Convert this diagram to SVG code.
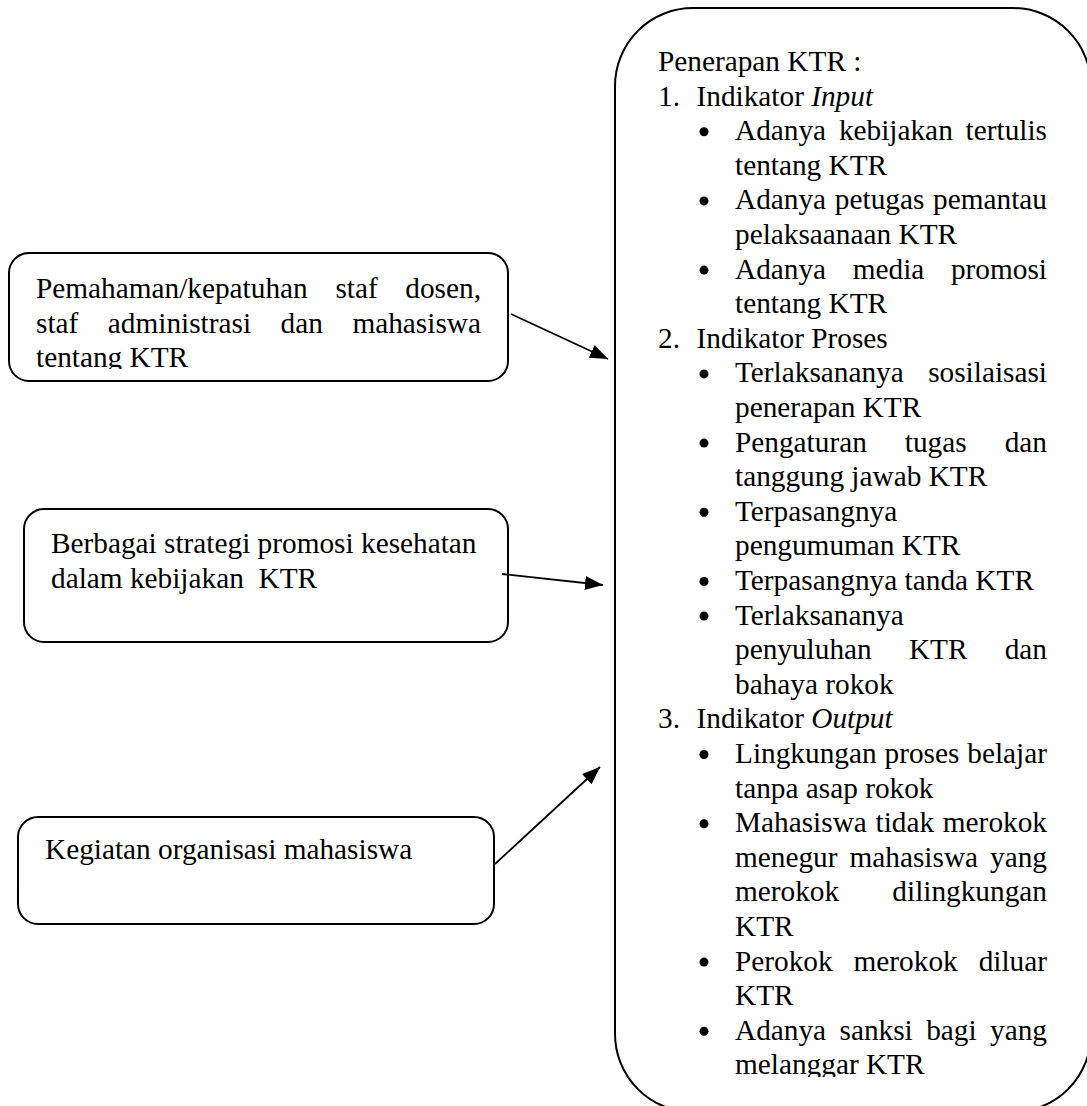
<svg xmlns="http://www.w3.org/2000/svg" width="1087" height="1106" viewBox="0 0 1087 1106">
<style>
.t { font-family: "Liberation Serif", "Times New Roman", serif; font-size: 29.3px; fill: #000; }
.box { fill: #fff; stroke: #000; stroke-width: 2; }
.conn { stroke: #000; stroke-width: 1.8; fill: none; marker-end: url(#arr); }
.b { fill: #000; }
.i { font-style: italic; }
</style>
<defs>
<marker id="arr" markerUnits="userSpaceOnUse" markerWidth="18" markerHeight="14" refX="18" refY="7" orient="auto">
<path d="M0,0 L18,7 L0,14 z" fill="#000"/>
</marker>
<clipPath id="clip1"><rect x="0" y="240" width="520" height="129"/></clipPath>
<clipPath id="clipBig"><rect x="600" y="0" width="487" height="1077"/></clipPath>
</defs>
<rect width="1087" height="1106" fill="#fff"/>

<g id="node-penerapan">
<rect class="box" x="615" y="8" width="476" height="1104" rx="78" ry="78"/>
<g clip-path="url(#clipBig)">
<text class="t" x="658" y="71">Penerapan KTR :</text>
<text class="t" x="658" y="105.6">1.</text>
<text class="t" x="696.5" y="105.6">Indikator <tspan class="i">Input</tspan></text>
<circle class="b" cx="704" cy="131.7" r="4.5"/>
<text class="t" y="140.2"><tspan x="735">Adanya</tspan><tspan x="838.9">kebijakan</tspan><tspan x="965.6">tertulis</tspan></text>
<text class="t" x="735" y="174.8">tentang KTR</text>
<circle class="b" cx="704" cy="200.9" r="4.5"/>
<text class="t" y="209.4"><tspan x="735">Adanya</tspan><tspan x="834.85">petugas</tspan><tspan x="933.09">pemantau</tspan></text>
<text class="t" x="735" y="244">pelaksaanaan KTR</text>
<circle class="b" cx="704" cy="270.1" r="4.5"/>
<text class="t" y="278.6"><tspan x="735">Adanya</tspan><tspan x="852.73">media</tspan><tspan x="950.95">promosi</tspan></text>
<text class="t" x="735" y="313.2">tentang KTR</text>
<text class="t" x="658" y="347.8">2.</text>
<text class="t" x="696.5" y="347.8">Indikator Proses</text>
<circle class="b" cx="704" cy="373.9" r="4.5"/>
<text class="t" y="382.4"><tspan x="735">Terlaksananya</tspan><tspan x="928.16">sosilaisasi</tspan></text>
<text class="t" x="735" y="417">penerapan KTR</text>
<circle class="b" cx="704" cy="443.1" r="4.5"/>
<text class="t" y="451.6"><tspan x="735">Pengaturan</tspan><tspan x="904.83">tugas</tspan><tspan x="1004.69">dan</tspan></text>
<text class="t" x="735" y="486.2">tanggung jawab KTR</text>
<circle class="b" cx="704" cy="512.3" r="4.5"/>
<text class="t" x="735" y="520.8">Terpasangnya</text>
<text class="t" x="735" y="555.4">pengumuman KTR</text>
<circle class="b" cx="704" cy="581.5" r="4.5"/>
<text class="t" x="735" y="590">Terpasangnya tanda KTR</text>
<circle class="b" cx="704" cy="616.1" r="4.5"/>
<text class="t" x="735" y="624.6">Terlaksananya</text>
<text class="t" y="659.2"><tspan x="735">penyuluhan</tspan><tspan x="908.9">KTR</tspan><tspan x="1004.69">dan</tspan></text>
<text class="t" x="735" y="693.8">bahaya rokok</text>
<text class="t" x="658" y="728.4">3.</text>
<text class="t" x="696.5" y="728.4">Indikator <tspan class="i">Output</tspan></text>
<circle class="b" cx="704" cy="754.5" r="4.5"/>
<text class="t" y="763"><tspan x="735">Lingkungan</tspan><tspan x="884.51">proses</tspan><tspan x="967.27">belajar</tspan></text>
<text class="t" x="735" y="797.6">tanpa asap rokok</text>
<circle class="b" cx="704" cy="823.7" r="4.5"/>
<text class="t" y="832.2"><tspan x="735">Mahasiswa</tspan><tspan x="875.53">tidak</tspan><tspan x="942.84">merokok</tspan></text>
<text class="t" y="866.8"><tspan x="735">menegur</tspan><tspan x="849.5">mahasiswa</tspan><tspan x="990.05">yang</tspan></text>
<text class="t" y="901.4"><tspan x="735">merokok</tspan><tspan x="892.35">dilingkungan</tspan></text>
<text class="t" x="735" y="936">KTR</text>
<circle class="b" cx="704" cy="962.1" r="4.5"/>
<text class="t" y="970.6"><tspan x="735">Perokok</tspan><tspan x="853.57">merokok</tspan><tspan x="978.64">diluar</tspan></text>
<text class="t" x="735" y="1005.2">KTR</text>
<circle class="b" cx="704" cy="1031.3" r="4.5"/>
<text class="t" y="1039.8"><tspan x="735">Adanya</tspan><tspan x="839.52">sanksi</tspan><tspan x="926.17">bagi</tspan><tspan x="990.02">yang</tspan></text>
<text class="t" x="735" y="1074.4">melanggar KTR</text>
</g>
</g>

<g id="node-pemahaman">
<rect class="box" x="9" y="253" width="499" height="128" rx="20" ry="20"/>
<g clip-path="url(#clip1)">
<text class="t" y="298"><tspan x="36">Pemahaman/kepatuhan</tspan><tspan x="335.4">staf</tspan><tspan x="405.32">dosen,</tspan></text>
<text class="t" y="332.5"><tspan x="36">staf</tspan><tspan x="107.83">administrasi</tspan><tspan x="280.6">dan</tspan><tspan x="352.43">mahasiswa</tspan></text>
<text class="t" x="36" y="367">tentang KTR</text>
</g>
</g>

<g id="node-strategi">
<rect class="box" x="24" y="509" width="484" height="133" rx="20" ry="20"/>
<text class="t" x="51" y="553">Berbagai strategi promosi kesehatan</text>
<text class="t" y="587.5"><tspan x="51">dalam kebijakan</tspan><tspan x="258.5">KTR</tspan></text>
</g>

<g id="node-kegiatan">
<rect class="box" x="18" y="817" width="476" height="107" rx="20" ry="20"/>
<text class="t" x="45" y="859">Kegiatan organisasi mahasiswa</text>
</g>

<g id="connectors">
<line class="conn" x1="511" y1="314" x2="608" y2="359"/>
<line class="conn" x1="502" y1="574" x2="603" y2="585"/>
<line class="conn" x1="495" y1="864" x2="600" y2="767"/>
</g>
</svg>
